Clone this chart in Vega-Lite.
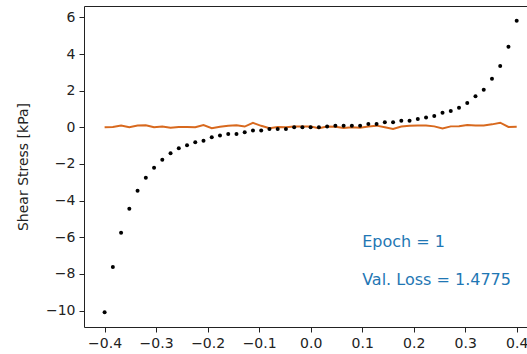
{
  "$schema": "https://vega.github.io/schema/vega-lite/v6.json",
  "autosize": "none",
  "padding": {"left": 84, "top": 6, "right": 0, "bottom": 27},
  "width": 443,
  "height": 321,
  "background": "white",
  "config": {
    "font": "DejaVu Sans",
    "view": {"stroke": "#222", "strokeWidth": 1},
    "axis": {
      "grid": false,
      "domain": false,
      "tickColor": "#222",
      "tickSize": 5,
      "tickWidth": 1,
      "labelFont": "DejaVu Sans",
      "labelFontSize": 14,
      "labelColor": "#222",
      "labelPadding": 4,
      "titleFont": "DejaVu Sans",
      "titleFontSize": 14,
      "titleFontWeight": "normal",
      "titleColor": "#222"
    }
  },
  "datasets": {
    "pts": [
      {"x": -0.4, "stress": -10.1, "pred": 0.0},
      {"x": -0.384, "stress": -7.62, "pred": 0.02},
      {"x": -0.368, "stress": -5.76, "pred": 0.1},
      {"x": -0.352, "stress": -4.44, "pred": 0.0},
      {"x": -0.336, "stress": -3.46, "pred": 0.1},
      {"x": -0.32, "stress": -2.76, "pred": 0.11},
      {"x": -0.304, "stress": -2.21, "pred": 0.0},
      {"x": -0.288, "stress": -1.77, "pred": 0.04},
      {"x": -0.272, "stress": -1.41, "pred": -0.02},
      {"x": -0.256, "stress": -1.14, "pred": 0.01},
      {"x": -0.24, "stress": -0.98, "pred": 0.02},
      {"x": -0.224, "stress": -0.82, "pred": 0.0},
      {"x": -0.208, "stress": -0.73, "pred": 0.12},
      {"x": -0.192, "stress": -0.54, "pred": -0.05},
      {"x": -0.176, "stress": -0.45, "pred": 0.03},
      {"x": -0.16, "stress": -0.36, "pred": 0.08},
      {"x": -0.144, "stress": -0.36, "pred": 0.11},
      {"x": -0.128, "stress": -0.27, "pred": 0.04},
      {"x": -0.112, "stress": -0.18, "pred": 0.24},
      {"x": -0.096, "stress": -0.18, "pred": 0.08},
      {"x": -0.08, "stress": -0.09, "pred": -0.05},
      {"x": -0.064, "stress": -0.09, "pred": 0.02},
      {"x": -0.048, "stress": -0.09, "pred": 0.0},
      {"x": -0.032, "stress": 0.0, "pred": 0.04},
      {"x": -0.016, "stress": 0.0, "pred": 0.04},
      {"x": 0.0, "stress": 0.0, "pred": 0.04},
      {"x": 0.016, "stress": 0.0, "pred": -0.05},
      {"x": 0.032, "stress": 0.04, "pred": 0.04},
      {"x": 0.048, "stress": 0.09, "pred": 0.03},
      {"x": 0.064, "stress": 0.09, "pred": -0.04},
      {"x": 0.08, "stress": 0.09, "pred": 0.0},
      {"x": 0.096, "stress": 0.09, "pred": -0.02},
      {"x": 0.112, "stress": 0.18, "pred": 0.04},
      {"x": 0.128, "stress": 0.18, "pred": 0.09},
      {"x": 0.144, "stress": 0.27, "pred": 0.0},
      {"x": 0.16, "stress": 0.27, "pred": -0.09},
      {"x": 0.176, "stress": 0.36, "pred": 0.04},
      {"x": 0.192, "stress": 0.36, "pred": 0.08},
      {"x": 0.208, "stress": 0.45, "pred": 0.1},
      {"x": 0.224, "stress": 0.54, "pred": 0.1},
      {"x": 0.24, "stress": 0.62, "pred": 0.05},
      {"x": 0.256, "stress": 0.8, "pred": -0.07},
      {"x": 0.272, "stress": 0.89, "pred": 0.05},
      {"x": 0.288, "stress": 1.07, "pred": 0.06},
      {"x": 0.304, "stress": 1.33, "pred": 0.12},
      {"x": 0.32, "stress": 1.69, "pred": 0.1},
      {"x": 0.336, "stress": 2.05, "pred": 0.1},
      {"x": 0.352, "stress": 2.65, "pred": 0.16},
      {"x": 0.368, "stress": 3.35, "pred": 0.25},
      {"x": 0.384, "stress": 4.4, "pred": 0.02},
      {"x": 0.4, "stress": 5.82, "pred": 0.03}
    ],
    "notes": [
      {"x": 0.1, "y": -6.52, "label": "Epoch = 1"},
      {"x": 0.1, "y": -8.62, "label": "Val. Loss = 1.4775"}
    ]
  },
  "layer": [
    {
      "data": {"name": "pts"},
      "mark": {"type": "line", "color": "#d8691e", "strokeWidth": 2, "clip": true},
      "encoding": {
        "x": {"field": "x", "type": "quantitative",
              "scale": {"domain": [-0.44, 0.42], "nice": false, "zero": false},
              "axis": {"values": [-0.4, -0.3, -0.2, -0.1, 0.0, 0.1, 0.2, 0.3, 0.4], "format": ".1f", "title": null}},
        "y": {"field": "pred", "type": "quantitative",
              "scale": {"domain": [-10.9, 6.62], "nice": false, "zero": false},
              "axis": {"values": [-10, -8, -6, -4, -2, 0, 2, 4, 6], "format": "d", "title": "Shear Stress [kPa]", "titlePadding": 15}}
      }
    },
    {
      "data": {"name": "pts"},
      "mark": {"type": "point", "shape": "circle", "filled": true, "color": "black", "size": 16, "opacity": 1, "clip": true},
      "encoding": {
        "x": {"field": "x", "type": "quantitative"},
        "y": {"field": "stress", "type": "quantitative"}
      }
    },
    {
      "data": {"name": "notes"},
      "mark": {"type": "text", "align": "left", "baseline": "alphabetic", "fontSize": 16, "color": "#1f77b4", "font": "DejaVu Sans"},
      "encoding": {
        "x": {"field": "x", "type": "quantitative"},
        "y": {"field": "y", "type": "quantitative"},
        "text": {"field": "label"}
      }
    }
  ]
}
